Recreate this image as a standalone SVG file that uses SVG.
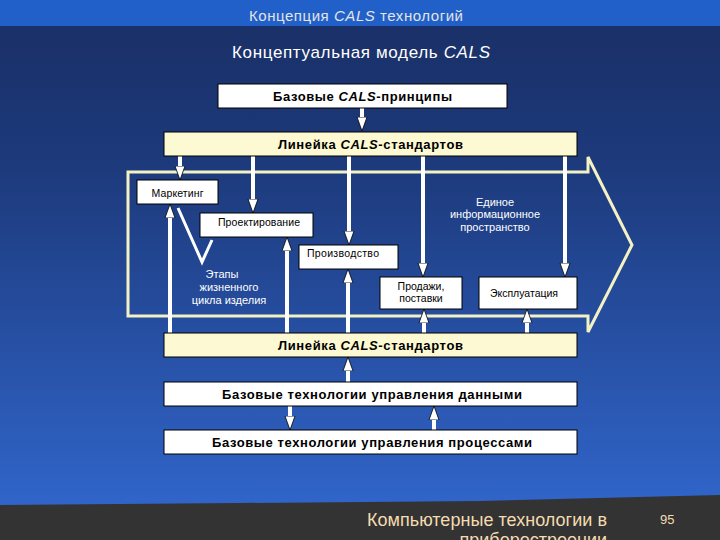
<svg xmlns="http://www.w3.org/2000/svg" width="720" height="540" viewBox="0 0 720 540">
<defs>
<linearGradient id="bg" x1="0" y1="26" x2="0" y2="500" gradientUnits="userSpaceOnUse">
<stop offset="0" stop-color="#1a3068"/>
<stop offset="0.3" stop-color="#1d3a7c"/>
<stop offset="1" stop-color="#3064c8"/>
</linearGradient>
<marker id="ah" markerUnits="userSpaceOnUse" markerWidth="16" markerHeight="12" viewBox="0 -6 16 12" refX="4" refY="0" orient="auto">
<path d="M0,-5 L14,0 L0,5 z" fill="#ffffff" stroke="#000000" stroke-width="0.8"/>
</marker>
<style>
.box{fill:#ffffff;stroke:#000000;stroke-width:1}
.std{fill:#fdf9d2;stroke:#000000;stroke-width:1}
.bt{font-family:"Liberation Sans",Arial,sans-serif;font-size:13px;font-weight:bold;fill:#000000;text-anchor:middle}
.st{font-family:"Liberation Sans",Arial,sans-serif;font-size:10.5px;fill:#000000}
.wt{font-family:"Liberation Sans",Arial,sans-serif;font-size:11px;fill:#ffffff;text-anchor:middle}
.con line{stroke:#ffffff;stroke-width:4;marker-end:url(#ah)}
.ft{font-family:"Liberation Sans",Arial,sans-serif;fill:#f3dcb0}
</style>
</defs>
<rect x="0" y="0" width="720" height="540" fill="url(#bg)"/>
<rect x="0" y="0" width="720" height="26" fill="#2060c8"/>
<polygon points="0,505 240,503 480,501 720,495 720,540 0,540" fill="#333333"/>
<text x="356" y="21" font-family="Liberation Sans,Arial,sans-serif" font-size="15" fill="#e4e4e4" text-anchor="middle" textLength="214">Концепция <tspan font-style="italic">CALS</tspan> технологий</text>
<text x="361" y="58" font-family="Liberation Sans,Arial,sans-serif" font-size="17" fill="#ffffff" text-anchor="middle" textLength="258">Концептуальная модель <tspan font-style="italic">CALS</tspan></text>

<g id="lifecycle-arrow">
<polygon points="128,172 588,172 588,157 632,245 588,332 588,316 128,316" fill="none" stroke="#f2f2c4" stroke-width="3"/>
</g>

<g class="con" id="connectors">
<line x1="362" y1="108" x2="362" y2="121"/>
<line x1="180" y1="156" x2="180" y2="170"/>
<line x1="253" y1="156" x2="253" y2="203"/>
<line x1="349" y1="156" x2="349" y2="235"/>
<line x1="423" y1="156" x2="423" y2="267"/>
<line x1="565" y1="156" x2="565" y2="267"/>
<line x1="170" y1="333" x2="170" y2="214"/>
<line x1="287" y1="333" x2="287" y2="247"/>
<line x1="348" y1="333" x2="348" y2="279"/>
<line x1="424" y1="333" x2="424" y2="319"/>
<line x1="527" y1="333" x2="527" y2="319"/>
<line x1="348" y1="382" x2="348" y2="367"/>
<line x1="290" y1="406" x2="290" y2="420"/>
<line x1="434" y1="430" x2="434" y2="416"/>
<polyline points="178,208 202,262 212,240" fill="none" stroke="#ffffff" stroke-width="3"/>
</g>

<g id="principles">
<rect class="box" x="218" y="84" width="289" height="24"/>
<text class="bt" x="362.5" y="101" textLength="179">Базовые <tspan font-style="italic">CALS</tspan>-принципы</text>
</g>
<g id="standards-top">
<rect class="std" x="164" y="132" width="413" height="24"/>
<text class="bt" x="370.5" y="149" textLength="185">Линейка <tspan font-style="italic">CALS</tspan>-стандартов</text>
</g>
<g id="marketing">
<rect class="box" x="137" y="180" width="81" height="24"/>
<text class="st" x="177.5" y="197" text-anchor="middle" textLength="52">Маркетинг</text>
</g>
<g id="design">
<rect class="box" x="200" y="213" width="113" height="24"/>
<text class="st" x="259" y="226" text-anchor="middle" textLength="82">Проектирование</text>
</g>
<g id="production">
<rect class="box" x="299" y="245" width="99" height="24"/>
<text class="st" x="307" y="257" textLength="72">Производство</text>
</g>
<g id="sales">
<rect class="box" x="380" y="277" width="82" height="32"/>
<text class="st" x="421" y="290" text-anchor="middle">Продажи,</text>
<text class="st" x="421" y="302" text-anchor="middle">поставки</text>
</g>
<g id="operation">
<rect class="box" x="479" y="277" width="98" height="32"/>
<text class="st" x="490" y="297" textLength="68">Эксплуатация</text>
</g>
<g id="lifecycle-label">
<text class="wt" x="222" y="278">Этапы</text>
<text class="wt" x="229" y="291">жизненного</text>
<text class="wt" x="229" y="304">цикла изделия</text>
</g>
<g id="info-space">
<text class="wt" x="495" y="206">Единое</text>
<text class="wt" x="495" y="218">информационное</text>
<text class="wt" x="495" y="231">пространство</text>
</g>
<g id="standards-bottom">
<rect class="std" x="164" y="333" width="413" height="24"/>
<text class="bt" x="370.5" y="350" textLength="185">Линейка <tspan font-style="italic">CALS</tspan>-стандартов</text>
</g>
<g id="data-tech">
<rect class="box" x="164" y="382" width="413" height="24"/>
<text class="bt" x="372" y="399" textLength="300">Базовые технологии управления данными</text>
</g>
<g id="process-tech">
<rect class="box" x="164" y="430" width="413" height="24"/>
<text class="bt" x="372" y="447" textLength="320">Базовые технологии управления процессами</text>
</g>

<text class="ft" x="487" y="526" font-size="18" text-anchor="middle" textLength="240">Компьютерные технологии в</text>
<text class="ft" x="607" y="546" font-size="18" text-anchor="end">приборостроении</text>
<text class="ft" x="660" y="524" font-size="13">95</text>
</svg>
